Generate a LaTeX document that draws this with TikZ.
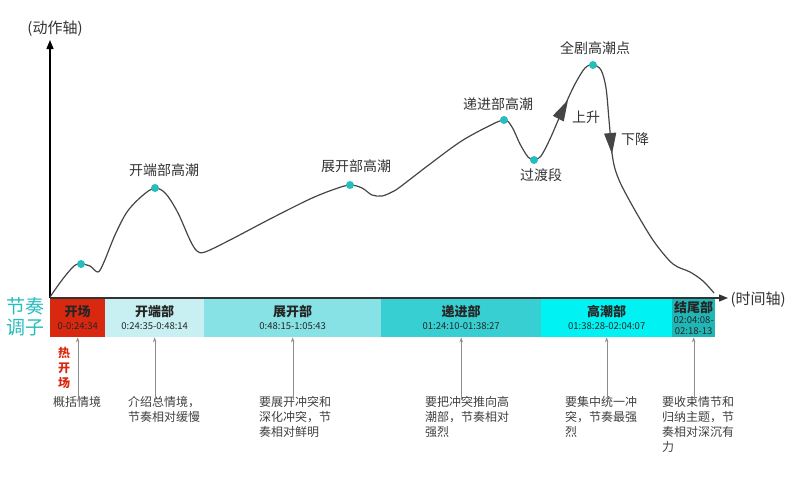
\documentclass[tikz,border=0pt]{standalone}
\usepackage{fontspec}
\setmainfont{Noto Sans CJK SC}
\usepackage{tikz}
\usetikzlibrary{arrows.meta}
\definecolor{curvegray}{HTML}{454545}
\definecolor{dotteal}{HTML}{26BDBD}
\definecolor{hotred}{HTML}{D92810}
\definecolor{segA}{HTML}{C8F0F2}
\definecolor{segB}{HTML}{86E2E4}
\definecolor{segC}{HTML}{38CFD2}
\definecolor{segD}{HTML}{00F2F2}
\definecolor{segE}{HTML}{20B6B6}
\tikzset{   seg/.style = {rectangle, inner sep=0, anchor=north west, minimum height=39pt, align=center, text=black!85, font=\fontsize{13}{16}\selectfont\bfseries},
            lbl/.style = {text=black!80, font=\fontsize{14}{16}\selectfont},
            desc/.style = {anchor=north west, inner sep=0, align=left, text=black!75, font=\fontsize{12}{15}\selectfont},
            ptr/.style = {draw=black!45, thin, -{Stealth[length=5pt,width=3.5pt]}},
            dot/.style = {circle, fill=dotteal, inner sep=0, minimum size=8pt},
            flow/.style = {-{Triangle[length=21pt,width=12pt]}}}
\newcommand{\tm}[1]{{\fontsize{9.5}{10}\selectfont\mdseries #1}}

\begin{document}
\begin{tikzpicture}[x=1pt,y=-1pt]
\useasboundingbox (0,0) rectangle (800,480);

% bar of sections
\node[seg, fill=hotred, minimum width=55pt] (kc) at (50,298) {开场\\[-3pt]\tm{0-0:24:34}};
\node[seg, fill=segA, minimum width=99pt] (kd) at (105,298) {开端部\\[-3pt]\tm{0:24:35-0:48:14}};
\node[seg, fill=segB, minimum width=177pt] (zk) at (204,298) {展开部\\[-3pt]\tm{0:48:15-1:05:43}};
\node[seg, fill=segC, minimum width=160pt] (dj) at (381,298) {递进部\\[-3pt]\tm{01:24:10-01:38:27}};
\node[seg, fill=segD, minimum width=131pt] (gc) at (541,298) {高潮部\\[-3pt]\tm{01:38:28-02:04:07}};
\node[seg, fill=segE, minimum width=43pt] (jw) at (672,298) {结尾部\\[-5pt]\tm{02:04:08-}\\[-5pt]\tm{02:18-13}};

% axes
\coordinate (o) at (50,298);
\coordinate (ytop) at (50,40);
\coordinate (xend) at (728,298);
\draw[black, line width=1.3pt, -{Triangle[length=9pt,width=7pt]}] (o) -- (ytop);
\draw[black!80, line width=1.3pt, -{Triangle[length=9pt,width=7pt]}] (o) -- (xend);
\node[lbl, font=\fontsize{15}{17}\selectfont] (yname) at (55,29) {(动作轴)};
\node[lbl, font=\fontsize{15}{17}\selectfont, anchor=west] (xname) at (727,300) {(时间轴)};
\node[text=dotteal, align=center, font=\fontsize{19}{21}\selectfont] (jz) at (25,317) {节奏\\调子};

% curve
\begin{scope}[curvegray, line width=1.2pt]
\draw plot[smooth, tension=0.55] coordinates {(50,297) (62,280) (74,266) (81,264) (90,266) (98,272) (104,262) (115,235) (127,212) (142,196) (155,188) (166,194) (178,213) (190,240) (197,251) (205,252) (230,240) (270,219) (310,199) (335,189) (350,185) (362,188) (372,195) (382,196) (392,192) (400,187) (430,164) (460,142) (485,128) (504,120) (512,127) (520,144) (528,157) (534,160)};
\draw[flow] plot[smooth, tension=0.55] coordinates {(534,160) (541,156) (550,139) (560,116) (568,100)};
\draw[flow] plot[smooth, tension=0.55] coordinates {(566,103) (575,84) (585,68) (593,65) (601,70) (606,88) (609,120) (612,154)};
\draw plot[smooth, tension=0.55] coordinates {(611,146) (614,165) (619,180) (627,196) (640,219) (655,243) (673,264) (690,272) (703,281) (714,293)};
\end{scope}

% climax points
\node[dot] (p1) at (81,264) {};
\node[dot] (p2) at (155,188) {};
\node[dot] (p3) at (350,185) {};
\node[dot] (p4) at (504,120) {};
\node[dot] (p5) at (534,160) {};
\node[dot] (p6) at (593,65) {};
\node[lbl] (l2) at (164,170) {开端部高潮};
\node[lbl] (l3) at (356,166) {展开部高潮};
\node[lbl] (l4) at (498,104) {递进部高潮};
\node[lbl] (l5) at (541,175) {过渡段};
\node[lbl] (l6) at (595,48) {全剧高潮点};
\node[lbl] (up) at (586,117) {上升};
\node[lbl] (down) at (635,139) {下降};

% notes under the bar
\node[text=hotred, align=center, font=\fontsize{12}{15}\selectfont\bfseries] (hot) at (64,368) {热\\开\\场};
\node[desc] (d1) at (53,396) {概括情境};
\node[desc] (d2) at (128,396) {介绍总情境，\\节奏相对缓慢};
\node[desc] (d3) at (259,396) {要展开冲突和\\深化冲突，节\\奏相对鲜明};
\node[desc] (d4) at (425,396) {要把冲突推向高\\潮部，节奏相对\\强烈};
\node[desc] (d5) at (565,396) {要集中统一冲\\突，节奏最强\\烈};
\node[desc] (d6) at (662,396) {要收束情节和\\归纳主题，节\\奏相对深沉有\\力};
\draw[ptr] ([yshift=-4pt]kc.south |- d1.north) -- (kc.south);
\draw[ptr] ([yshift=-4pt]kd.south |- d2.north) -- (kd.south);
\draw[ptr] ([yshift=-4pt]zk.south |- d3.north) -- (zk.south);
\draw[ptr] ([yshift=-4pt]dj.south |- d4.north) -- (dj.south);
\draw[ptr] ([yshift=-4pt]gc.south |- d5.north) -- (gc.south);
\draw[ptr] ([yshift=-4pt]jw.south |- d6.north) -- (jw.south);
\end{tikzpicture}
\end{document}
